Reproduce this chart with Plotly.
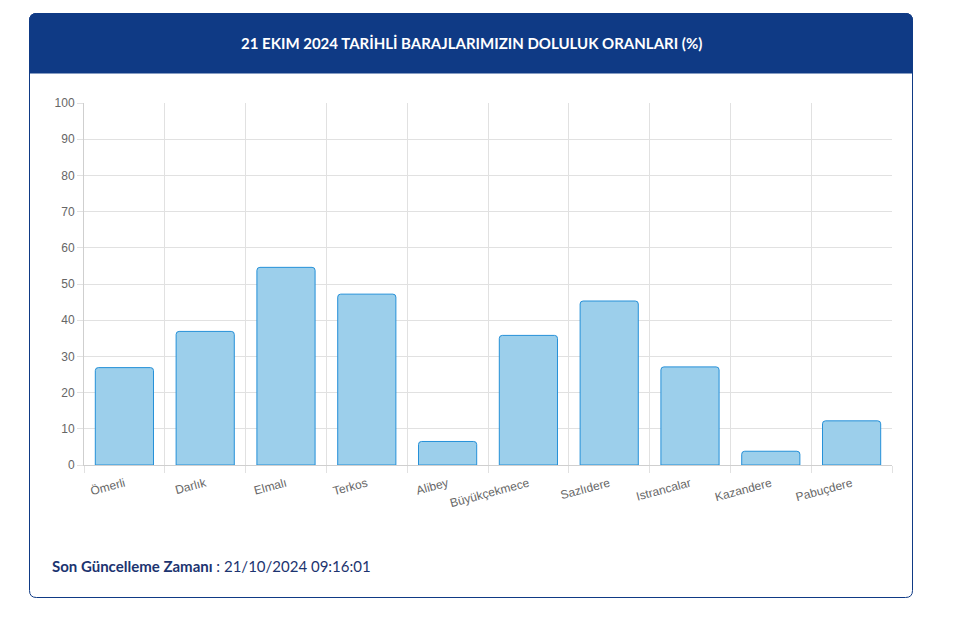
import plotly.graph_objects as go

categories = ["Ömerli", "Darlık", "Elmalı", "Terkos", "Alibey", "Büyükçekmece",
              "Sazlıdere", "Istrancalar", "Kazandere", "Pabuçdere"]
fill_rates = [26.9, 36.9, 54.6, 47.2, 6.5, 35.8, 45.3, 27.1, 3.8, 12.2]
y_ticks = [0, 10, 20, 30, 40, 50, 60, 70, 80, 90, 100]
title_text = "21 EKIM 2024 TARİHLİ BARAJLARIMIZIN DOLULUK ORANLARI (%)"
footer_label = "Son Güncelleme Zamanı"
footer_value = ": 21/10/2024 09:16:01"

W, H = 964, 617
L, R, T, B = 84, 892, 103, 465

def px(x):
    return (x - L) / (R - L)

def py(y):
    return (B - y) / (B - T)

def rounded_path(x0, y0, x1, y1, r, top=True, bottom=True):
    X = px; Y = py
    rt = r if top else 0
    rb = r if bottom else 0
    p = f"M {X(x0+rt)},{Y(y0)} L {X(x1-rt)},{Y(y0)} "
    if rt:
        p += f"Q {X(x1)},{Y(y0)} {X(x1)},{Y(y0+rt)} "
    p += f"L {X(x1)},{Y(y1-rb)} "
    if rb:
        p += f"Q {X(x1)},{Y(y1)} {X(x1-rb)},{Y(y1)} "
    p += f"L {X(x0+rb)},{Y(y1)} "
    if rb:
        p += f"Q {X(x0)},{Y(y1)} {X(x0)},{Y(y1-rb)} "
    p += f"L {X(x0)},{Y(y0+rt)} "
    if rt:
        p += f"Q {X(x0)},{Y(y0)} {X(x0+rt)},{Y(y0)} "
    p += "Z"
    return p

NAVY = "#0f3a85"

fig = go.Figure()
fig.add_trace(go.Bar(
    x=categories, y=fill_rates,
    marker=dict(color="#9ccfeb",
                line=dict(color="#2590d8", width=1),
                cornerradius=3),
    width=0.72,
    hoverinfo="x+y",
))

shapes = [
    dict(type="path", xref="paper", yref="paper", layer="below",
         path=rounded_path(29.5, 13.5, 912.5, 597.5, 7),
         fillcolor="white", line=dict(color=NAVY, width=1)),
    dict(type="path", xref="paper", yref="paper", layer="below",
         path=rounded_path(29.5, 13.5, 912.5, 73, 7, top=True, bottom=False),
         fillcolor=NAVY, line=dict(color=NAVY, width=1)),
]

annotations = [
    dict(text=f"<b>{title_text}</b>", xref="paper", yref="paper",
         x=px(471), y=py(43), xanchor="center", yanchor="middle",
         showarrow=False, font=dict(family="Lato", size=15, color="white")),
    dict(text=f"<b>{footer_label}</b> {footer_value}", xref="paper", yref="paper",
         x=px(50), y=py(566), xanchor="left", yanchor="middle",
         showarrow=False, font=dict(family="Lato", size=15, color="#1c3470")),
]

fig.update_layout(
    width=W, height=H,
    margin=dict(l=L, r=W - R, t=T, b=H - B),
    paper_bgcolor="white", plot_bgcolor="white",
    showlegend=False,
    shapes=shapes, annotations=annotations,
    font=dict(family="Liberation Sans, Arial", size=12, color="#666"),
)
fig.update_xaxes(
    type="category", tickson="boundaries", showgrid=True,
    gridcolor="#e1e1e1", gridwidth=1,
    ticks="outside", ticklen=7, tickcolor="#e1e1e1",
    tickangle=-15, tickfont=dict(size=12, color="#666"),
    ticklabelstandoff=6,
    showline=True, linecolor="#cfcfcf", linewidth=1,
    zeroline=False, fixedrange=True,
)
fig.update_yaxes(
    range=[0, 100], tickvals=y_ticks, showgrid=True,
    gridcolor="#e1e1e1", gridwidth=1,
    ticks="outside", ticklen=6, tickcolor="#e1e1e1",
    showline=True, linecolor="#cfcfcf", linewidth=1,
    zeroline=True, zerolinecolor="#cfcfcf", zerolinewidth=1,
    tickfont=dict(size=12, color="#666"), fixedrange=True,
)

fig.write_html("out.html", config={"displayModeBar": False})
